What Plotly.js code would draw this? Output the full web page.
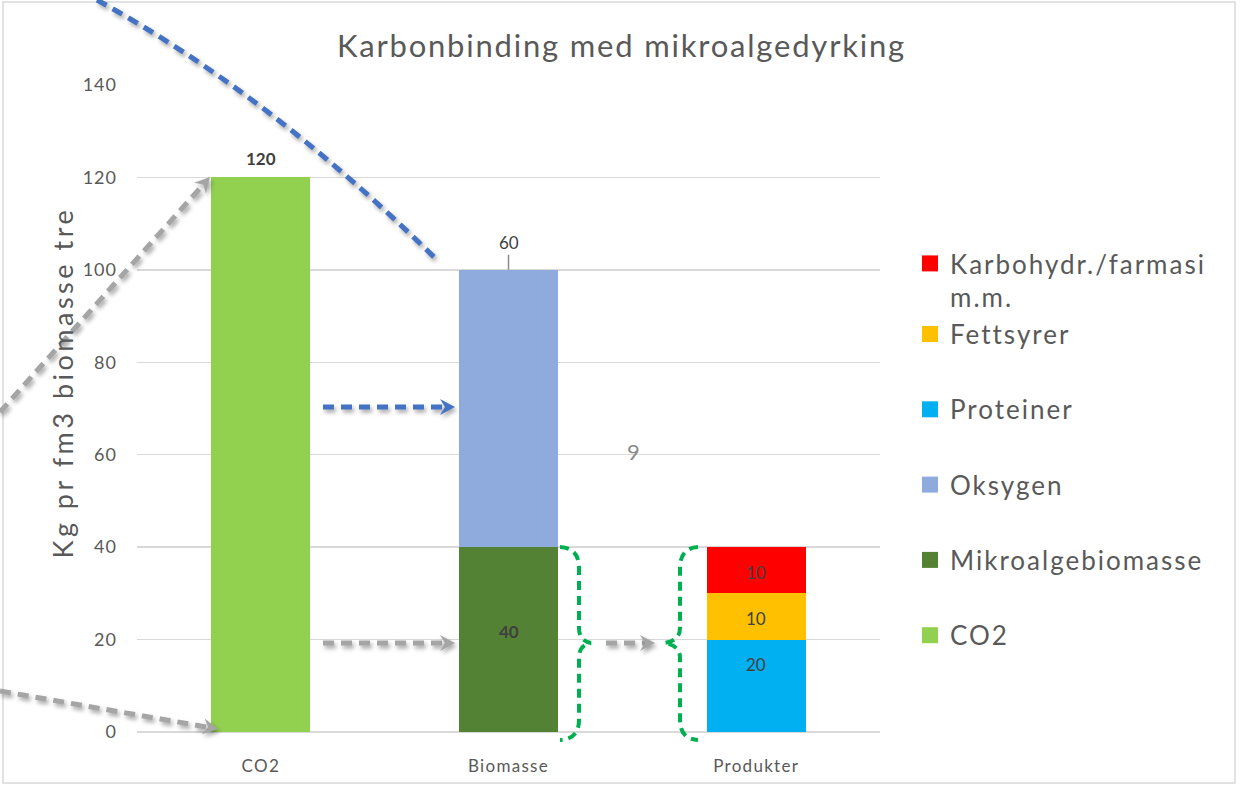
<!DOCTYPE html>
<html>
<head>
<meta charset="utf-8">
<script src="https://cdn.plot.ly/plotly-3.0.1.min.js"></script>
<style>
  html, body { margin: 0; padding: 0; background: #ffffff; }
  #chart { width: 1243px; height: 786px; }
  #chart .gtitle { letter-spacing: 1.8px; }
  #chart .legendtext { letter-spacing: 2px; }
  #chart .legend .scrollbox, #chart .legend { clip-path: none !important; }
  #chart .ytick text { letter-spacing: 1px; }
  #chart .xtick text { letter-spacing: 1.3px; }
</style>
</head>
<body>
<div id="chart"></div>
<script>
// ---- data ----
const categories = ['CO2', 'Biomasse', 'Produkter'];
const seriesNames = ['CO2', 'Mikroalgebiomasse', 'Oksygen', 'Proteiner', 'Fettsyrer', 'Karbohydr./farmasi<br>m.m.'];
const co2Values = [120, null, null];
const mikroalgeValues = [null, 40, null];
const oksygenValues = [null, 60, null];
const proteinerValues = [null, null, 20];
const fettsyrerValues = [null, null, 10];
const karbohydrValues = [null, null, 10];
const yTickValues = [0, 20, 40, 60, 80, 100, 120, 140];
const chartTitle = 'Karbonbinding med mikroalgedyrking';
const yAxisTitle = 'Kg pr fm3 biomasse tre';
const strayText = '9';

// ---- styling ----
const colors = ['#92D050', '#548235', '#8FAADC', '#00B0F0', '#FFC000', '#FF0000'];
const FONT = 'Lato, "Open Sans", sans-serif';
const TXT = '#595959';
const W = 1243, H = 786, PL = 137, PR = 880, PT = 85, PB = 732;
const px = x => (x - PL) / (PR - PL);
const py = y => (PB - y) / (PB - PT);

const seriesValues = [co2Values, mikroalgeValues, oksygenValues, proteinerValues, fettsyrerValues, karbohydrValues];
const legendGroups = ['g1', 'g2', 'g3', 'g4', 'g5', 'g5'];
const legendRanks = [6, 5, 4, 3, 2, 1];

const traces = seriesNames.map((name, i) => ({
  type: 'bar',
  name: name,
  x: categories,
  y: seriesValues[i],
  width: 0.40,
  marker: { color: colors[i], line: { width: 0 } },
  legendgroup: legendGroups[i],
  legendrank: legendRanks[i],
  hoverinfo: 'skip'
}));

// ---- data labels (from the arrays) ----
const labelFont = { family: FONT, size: 17, color: '#404040' };
const annotations = [];
annotations.push({ x: categories[0], y: co2Values[0], xref: 'x', yref: 'y', text: '<b>' + co2Values[0] + '</b>', showarrow: false, yshift: 19, font: labelFont });
annotations.push({ x: categories[1], y: mikroalgeValues[1] + oksygenValues[1], xref: 'x', yref: 'y', text: String(oksygenValues[1]),
  showarrow: true, arrowhead: 0, ax: 0, ay: -27, arrowcolor: '#8c8c8c', arrowwidth: 1.5, font: labelFont });
annotations.push({ x: categories[1], y: mikroalgeValues[1] / 2, xref: 'x', yref: 'y', text: '<b>' + mikroalgeValues[1] + '</b>', showarrow: false, yshift: 8, font: labelFont });
annotations.push({ x: categories[2], y: proteinerValues[2], xref: 'x', yref: 'y', text: String(proteinerValues[2]), showarrow: false, yshift: -25, font: labelFont });
annotations.push({ x: categories[2], y: proteinerValues[2] + fettsyrerValues[2] / 2, xref: 'x', yref: 'y', text: String(fettsyrerValues[2]), showarrow: false, yshift: -2, font: labelFont });
annotations.push({ x: categories[2], y: proteinerValues[2] + fettsyrerValues[2] + karbohydrValues[2] / 2, xref: 'x', yref: 'y', text: String(karbohydrValues[2]), showarrow: false, yshift: -2, font: labelFont });
// y axis title
const yTitleIndex = annotations.length;
annotations.push({ x: px(62), y: py(383), xref: 'paper', yref: 'paper', text: yAxisTitle, textangle: -90, showarrow: false,
  font: { family: FONT, size: 27, color: TXT }, xanchor: 'center', yanchor: 'middle' });
// stray "9"
annotations.push({ x: px(633), y: py(451), xref: 'paper', yref: 'paper', text: strayText, showarrow: false,
  font: { family: FONT, size: 22, color: '#8a8a8a' }, xanchor: 'center', yanchor: 'middle' });

// ---- decorations (pixel helpers) ----
const shapes = [];
const shadowIdx = [];
function P(x, y) { return px(x).toFixed(5) + ',' + py(y).toFixed(5); }
function lineShape(x0, y0, x1, y1, color, width, dash) {
  return { type: 'line', xref: 'paper', yref: 'paper', x0: px(x0), y0: py(y0), x1: px(x1), y1: py(y1),
    line: { color: color, width: width, dash: dash } };
}
function pathShape(path, color, width, dash, fill) {
  return { type: 'path', xref: 'paper', yref: 'paper', path: path,
    line: { color: color, width: width, dash: dash || 'solid' }, fillcolor: fill || 'rgba(0,0,0,0)' };
}
function head(tx, ty, fx, fy, len, hw, notch) {
  let dx = tx - fx, dy = ty - fy; const d = Math.hypot(dx, dy); dx /= d; dy /= d;
  const nx = -dy, ny = dx;
  const bx = tx - dx * len, by = ty - dy * len;
  const mx = tx - dx * (len - notch), my = ty - dy * (len - notch);
  return 'M' + P(tx, ty) + ' L' + P(bx + nx * hw, by + ny * hw) + ' L' + P(mx, my) + ' L' + P(bx - nx * hw, by - ny * hw) + ' Z';
}
function addShadowed(s) { shadowIdx.push(shapes.length); shapes.push(s); }
function arrow(x0, y0, x1, y1, color, width, dash) {
  let dx = x1 - x0, dy = y1 - y0; const d = Math.hypot(dx, dy);
  const ex = x1 - dx / d * 10, ey = y1 - dy / d * 10;
  addShadowed(lineShape(x0, y0, ex, ey, color, width, dash));
  addShadowed(pathShape(head(x1, y1, x0, y0, 15, 8, 5), color, 0, 'solid', color));
}

const GRAY = '#A5A5A5', BLUE = '#4472C4', GREEN = '#00B050';
// chart border
shapes.push({ type: 'rect', xref: 'paper', yref: 'paper', x0: px(3), y0: py(2), x1: px(1235), y1: py(783),
  line: { color: '#d9d9d9', width: 1.5 }, fillcolor: 'rgba(0,0,0,0)', layer: 'below' });

// long blue dashed curve
addShadowed(pathShape('M' + P(97, 0) + ' Q' + P(270, 95) + ' ' + P(437, 260), BLUE, 5, '11px,7px'));

// arrows
arrow(0, 412, 210, 177, GRAY, 5, '11px,7px');
arrow(0, 691, 218, 729, GRAY, 5, '11px,7px');
arrow(323, 407, 455, 407, BLUE, 5, '11px,7px');
arrow(323, 643, 455, 643, GRAY, 5, '11px,7px');
arrow(606, 643, 655, 643, GRAY, 5, '11px,7px');

// green braces
const brace1 = 'M' + P(560, 547) + ' Q' + P(579, 548) + ' ' + P(579, 568) + ' L' + P(579, 628) +
  ' Q' + P(579, 641) + ' ' + P(591, 643) + ' Q' + P(579, 645) + ' ' + P(579, 658) + ' L' + P(579, 720) +
  ' Q' + P(579, 739) + ' ' + P(560, 740);
const brace2 = 'M' + P(698, 547) + ' Q' + P(680, 548) + ' ' + P(680, 568) + ' L' + P(680, 628) +
  ' Q' + P(680, 641) + ' ' + P(664, 643) + ' Q' + P(680, 645) + ' ' + P(680, 658) + ' L' + P(680, 720) +
  ' Q' + P(680, 739) + ' ' + P(698, 740);
shapes.push(pathShape(brace1, GREEN, 4, '9px,6px'));
shapes.push(pathShape(brace2, GREEN, 4, '9px,6px'));

const layout = {
  width: W, height: H,
  margin: { l: PL, r: W - PR, t: PT, b: H - PB, pad: 0 },
  paper_bgcolor: '#ffffff', plot_bgcolor: '#ffffff',
  barmode: 'stack',
  font: { family: FONT, color: TXT },
  title: { text: chartTitle, x: 0.5, xref: 'container', xanchor: 'center', y: 1 - 46 / H, yref: 'container', yanchor: 'middle',
    font: { family: FONT, size: 31, color: TXT } },
  xaxis: {
    type: 'category', range: [-0.5, 2.5], showgrid: false, zeroline: false, showline: false,
    ticks: '', tickfont: { family: FONT, size: 17, color: TXT }, ticklabelstandoff: 22, fixedrange: true
  },
  yaxis: {
    range: [0, 140], tickvals: yTickValues, showgrid: true, gridcolor: '#d9d9d9', gridwidth: 1.3,
    zeroline: true, zerolinecolor: '#d9d9d9', zerolinewidth: 1.5, showline: false, ticks: '',
    tickfont: { family: FONT, size: 18, color: TXT }, ticklabelstandoff: 19, fixedrange: true
  },
  showlegend: true,
  legend: {
    x: px(910), xanchor: 'left', y: py(240), yanchor: 'top',
    traceorder: 'grouped', tracegroupgap: 38.5, valign: 'top',
    font: { family: FONT, size: 26, color: TXT }, bgcolor: 'rgba(0,0,0,0)', itemclick: false, itemdoubleclick: false
  },
  shapes: shapes,
  annotations: annotations
};

Plotly.newPlot('chart', traces, layout, { displayModeBar: false, staticPlot: true }).then(gd => {
  gd.querySelectorAll('.shapelayer path').forEach(p => {
    const idx = Number(p.getAttribute('data-index'));
    if (shadowIdx.indexOf(idx) >= 0) p.style.filter = 'drop-shadow(2px 3px 2px rgba(0,0,0,0.35))';
  });
  gd.querySelectorAll('.legend, .legend .scrollbox').forEach(el => el.removeAttribute('clip-path'));
  gd.querySelectorAll('.legend .legendpoints path').forEach(p => p.setAttribute('d', 'M8,8H-8V-8H8Z'));
  const ann = gd.querySelector('.annotation[data-index="' + yTitleIndex + '"] text');
  if (ann) ann.style.letterSpacing = '3.5px';
});
</script>
</body>
</html>
